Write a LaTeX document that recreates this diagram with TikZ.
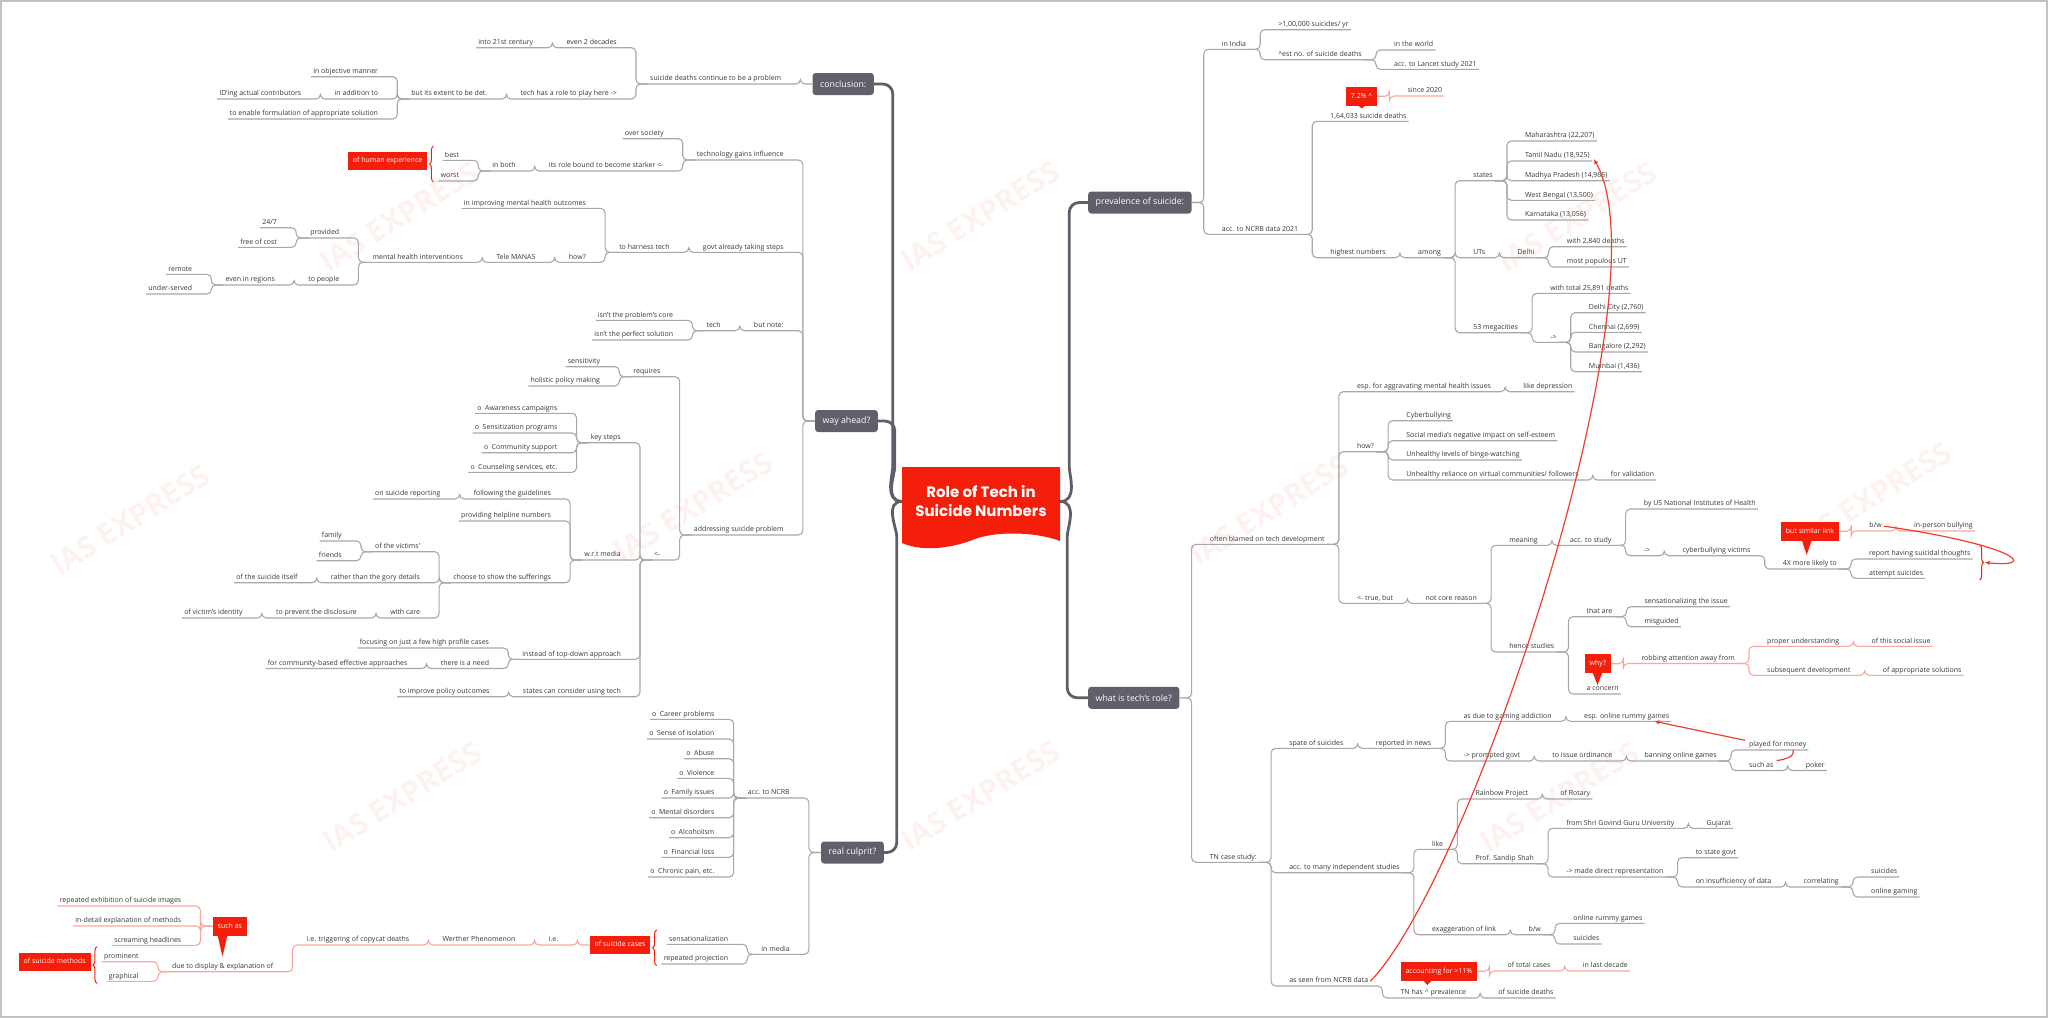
\documentclass[tikz,border=0pt]{standalone}
\usepackage{fontspec}
\setmainfont{Open Sans}
\newfontfamily\titlefont{Poppins}
\usetikzlibrary{arrows.meta,positioning,calc,decorations.pathreplacing,backgrounds}

\definecolor{cred}{RGB}{245,30,10}
\definecolor{ared}{RGB}{240,62,44}
\definecolor{pinkln}{RGB}{246,168,158}
\definecolor{lgray}{RGB}{168,168,170}
\definecolor{tgray}{RGB}{94,94,104}
\definecolor{bgray}{RGB}{96,96,106}
\definecolor{txt}{RGB}{55,55,55}
\definecolor{wm}{RGB}{254,242,240}

\newcommand\txtf{\fontsize{7pt}{8pt}\selectfont}
% branch to the right: parent point, name, y of line, text
\newcommand\mmR[5][]{%
  \node[rt] (#3) at ([xshift=28pt]#2 |- 0,#4) {#5};
  \draw[ln,#1] (#2) -- ++(12pt,0) |- (#3.south east);}
% branch to the left
\newcommand\mmL[5][]{%
  \node[lt] (#3) at ([xshift=-29pt]#2 |- 0,#4) {#5};
  \draw[ln,#1] (#2) -- ++(-12pt,0) |- (#3.south west);}

\begin{document}
\begin{tikzpicture}[x=1pt,y=-1pt,
  rt/.style={anchor=south west,font=\txtf,text=txt,inner xsep=2pt,inner ysep=1pt,text height=5.3pt,text depth=2pt},
  lt/.style={rt,anchor=south east},
  ln/.style={draw=lgray,line width=1.1pt,rounded corners=4.5pt},
  pk/.style={draw=pinkln},
  topic/.style={fill=bgray,text=white,rounded corners=3pt,font=\fontsize{8.8pt}{10pt}\selectfont,inner xsep=7.5pt,inner ysep=0pt,minimum height=22pt},
  callout/.style={fill=cred,text=white,font=\txtf,inner xsep=5pt,inner ysep=0pt,minimum height=18.6pt,text height=5.3pt,text depth=1.5pt},
  trunk/.style={draw=tgray,line width=2.8pt,rounded corners=10pt},
  brc/.style={draw=cred,line width=1pt,decorate,decoration={brace,amplitude=4pt}},
  rel/.style={draw=ared,line width=1.2pt,-{Latex[length=5pt,width=4.5pt]}},
  wmark/.style={text=wm,font=\fontsize{30pt}{30pt}\selectfont\bfseries,rotate=32}]
\useasboundingbox (0,0) rectangle (2048,1018);

% Centre
\node[text=white,align=center,font={\fontsize{15pt}{19pt}\titlefont\bfseries},minimum width=158pt,minimum height=69pt] (root) at (981,501.5) {Role of Tech in\\Suicide Numbers};

% Main topics
\node[topic,anchor=east] (conc) at (874,84) {conclusion:};
\node[topic,anchor=east] (way) at (878,421) {way ahead?};
\node[topic,anchor=east] (real) at (884,852.5) {real culprit?};
\node[topic,anchor=west] (prev) at (1088,202.5) {prevalence of suicide:};
\node[topic,anchor=west] (role) at (1088,697.8) {what is tech's role?};

\begin{scope}[on background layer]
  % Watermark
  \node[wmark] (wm1) at (399,217) {IAS EXPRESS};
  \node[wmark] (wm2) at (980,216) {IAS EXPRESS};
  \node[wmark] (wm3) at (1577,217) {IAS EXPRESS};
  \node[wmark] (wm4) at (130,520) {IAS EXPRESS};
  \node[wmark] (wm5) at (693,507) {IAS EXPRESS};
  \node[wmark] (wm6) at (1269,510) {IAS EXPRESS};
  \node[wmark] (wm7) at (1872,497) {IAS EXPRESS};
  \node[wmark] (wm8) at (402,797) {IAS EXPRESS};
  \node[wmark] (wm9) at (980,796) {IAS EXPRESS};
  \node[wmark] (wm10) at (1559,797) {IAS EXPRESS};
  % Frame
  \draw[lgray!70,line width=1.5pt] (1,1) rectangle (2047,1017);
  % Trunks
  \draw[trunk] (root.west) to[out=180,in=-90] ([xshift=-9pt,yshift=45pt]root.west) |- (conc.east);
  \draw[trunk] (root.west) to[out=180,in=-90] ([xshift=-7pt,yshift=45pt]root.west) |- (way.east);
  \draw[trunk] (root.west) to[out=180,in=90] ([xshift=-5pt,yshift=-45pt]root.west) |- (real.east);
  \draw[trunk] (root.east) to[out=0,in=-90] ([xshift=9pt,yshift=45pt]root.east) |- (prev.west);
  \draw[trunk] (root.east) to[out=0,in=90] ([xshift=7pt,yshift=-45pt]root.east) |- (role.west);
  % Flag
  \fill[cred] (902,467) -- (1060,467) -- (1060,541) .. controls (1040,533) and (1000,530) .. (975,539) .. controls (955,547) and (925,553) .. (902,543) -- cycle;
\end{scope}

% Conclusion
\mmL{conc.west}{persist}{84}{suicide deaths continue to be a problem}
\mmL{persist.south west}{decades}{47.7}{even 2 decades}
\mmL{decades.south west}{century}{47.7}{into 21st century}
\mmL{persist.south west}{roleplay}{99}{tech has a role to play here ->}
\mmL{roleplay.south west}{extent}{99}{but its extent to be det.}
\mmL{extent.south west}{objective}{76.7}{in objective manner}
\mmL{extent.south west}{addition}{99}{in addition to}
\mmL{addition.south west}{iding}{99}{ID'ing actual contributors}
\mmL{extent.south west}{formul}{119}{to enable formulation of appropriate solution}

% Way ahead
\mmL{way.west}{influence}{160}{technology gains influence}
\mmL{influence.south west}{society}{138.7}{over society}
\mmL{influence.south west}{starker}{171}{its role bound to become starker <-}
\mmL{starker.south west}{both}{171}{in both}
\mmL{both.south west}{best}{160.3}{best}
\mmL{both.south west}{worst}{181}{worst}
\draw[brc] ([xshift=-5pt]worst.south west |- 0,182) -- ([xshift=-5pt]worst.south west |- 0,146);
\node[callout,anchor=east] (humexp) at ([xshift=-11pt]worst.south west |- 0,161) {of human experience};
\mmL{way.west}{govt}{252.3}{govt already taking steps}
\mmL{govt.south west}{harness}{252.3}{to harness tech}
\mmL{harness.south west}{improving}{208.3}{in improving mental health outcomes}
\mmL{harness.south west}{howq}{262.3}{how?}
\mmL{howq.south west}{manas}{262.3}{Tele MANAS}
\mmL{manas.south west}{interv}{262.3}{mental health interventions}
\mmL{interv.south west}{provided}{238}{provided}
\mmL{provided.south west}{allday}{227.7}{24/7}
\mmL{provided.south west}{free}{247.3}{free of cost}
\mmL{interv.south west}{people}{285}{to people}
\mmL{people.south west}{regions}{285}{even in regions}
\mmL{regions.south west}{remote}{274.3}{remote}
\mmL{regions.south west}{underserved}{294}{under-served}
\mmL{way.west}{note}{330.7}{but note:}
\mmL{note.south west}{tech}{330.7}{tech}
\mmL{tech.south west}{core}{320.3}{isn't the problem's core}
\mmL{tech.south west}{perfect}{340}{isn't the perfect solution}
\mmL{way.west}{address}{535}{addressing suicide problem}
\mmL{address.south west}{requires}{376.7}{requires}
\mmL{requires.south west}{sensit}{366.7}{sensitivity}
\mmL{requires.south west}{holistic}{386}{holistic policy making}
\mmL{address.south west}{larr}{560}{<-}
\mmL{larr.south west}{keysteps}{442.7}{key steps}
\mmL{keysteps.south west}{aware}{413.3}{o\enspace Awareness campaigns}
\mmL{keysteps.south west}{sensprog}{433}{o\enspace Sensitization programs}
\mmL{keysteps.south west}{commun}{452.7}{o\enspace Community support}
\mmL{keysteps.south west}{counsel}{472.3}{o\enspace Counseling services, etc.}
\mmL{larr.south west}{media}{560}{w.r.t media}
\mmL{media.south west}{guide}{499}{following the guidelines}
\mmL{guide.south west}{reporting}{499}{on suicide reporting}
\mmL{media.south west}{helpline}{521}{providing helpline numbers}
\mmL{media.south west}{suffer}{582.7}{choose to show the sufferings}
\mmL{suffer.south west}{victims2}{551.7}{of the victims'}
\mmL{victims2.south west}{family}{541}{family}
\mmL{victims2.south west}{friends}{560.7}{friends}
\mmL{suffer.south west}{gory}{582.7}{rather than the gory details}
\mmL{gory.south west}{itself}{582.7}{of the suicide itself}
\mmL{suffer.south west}{care}{618}{with care}
\mmL{care.south west}{disclose}{618}{to prevent the disclosure}
\mmL{disclose.south west}{identity}{618}{of victim's identity}
\mmL{larr.south west}{topdown}{659.3}{instead of top-down approach}
\mmL{topdown.south west}{focus}{648}{focusing on just a few high profile cases}
\mmL{topdown.south west}{need}{668.5}{there is a need}
\mmL{need.south west}{commbased}{668.5}{for community-based effective approaches}
\mmL{larr.south west}{states2}{696.7}{states can consider using tech}
\mmL{states2.south west}{policy}{696.7}{to improve policy outcomes}

% Real culprit
\mmL{real.west}{accncrb}{798}{acc. to NCRB}
\mmL{accncrb.south west}{career}{719.3}{o\enspace Career problems}
\mmL{accncrb.south west}{isolation}{739}{o\enspace Sense of isolation}
\mmL{accncrb.south west}{abuse}{758.7}{o\enspace Abuse}
\mmL{accncrb.south west}{violence}{778.3}{o\enspace Violence}
\mmL{accncrb.south west}{famiss}{798}{o\enspace Family issues}
\mmL{accncrb.south west}{mental}{817.7}{o\enspace Mental disorders}
\mmL{accncrb.south west}{alcohol}{837.7}{o\enspace Alcoholism}
\mmL{accncrb.south west}{financial}{857.3}{o\enspace Financial loss}
\mmL{accncrb.south west}{chronic}{877}{o\enspace Chronic pain, etc.}
\mmL{real.west}{inmedia}{954.3}{in media}
\mmL{inmedia.south west}{sensation}{944.3}{sensationalization}
\mmL{inmedia.south west}{projection}{964}{repeated projection}
\draw[brc] ([xshift=-5pt]projection.south west |- 0,965.5) -- ([xshift=-5pt]projection.south west |- 0,930);
\node[callout,anchor=east] (ofcases) at ([xshift=-11pt]projection.south west |- 0,945) {of suicide cases};
\mmL[pk]{ofcases.west}{ie}{945}{i.e.}
\mmL[pk]{ie.south west}{werther}{945}{Werther Phenomenon}
\mmL[pk]{werther.south west}{trig}{945}{i.e. triggering of copycat deaths}
\mmL[pk]{trig.south west}{due}{971.7}{due to display \& explanation of}
\mmL[pk]{due.south west}{prominent}{961.7}{prominent}
\mmL[pk]{due.south west}{graphical}{981.3}{graphical}
\draw[brc] ([xshift=-5pt]prominent.south west |- 0,983.3) -- ([xshift=-5pt]prominent.south west |- 0,946.7);
\node[callout,anchor=east] (ofmethods) at ([xshift=-11pt]prominent.south west |- 0,962) {of suicide methods};
\node[callout,anchor=north west] (suchbox) at ([xshift=-63pt,yshift=55pt]due.south east) {such as};
\coordinate (tsuch) at ([xshift=-53pt,yshift=15pt]due.south east);
\fill[cred] ([xshift=-5pt,yshift=1pt]tsuch |- suchbox.south) -- (tsuch) -- ([xshift=5pt,yshift=1pt]tsuch |- suchbox.south) -- cycle;
\mmL[pk]{suchbox.west}{exhib}{906}{repeated exhibition of suicide images}
\mmL[pk]{suchbox.west}{indetail}{926}{in-detail explanation of methods}
\mmL[pk]{suchbox.west}{screaming}{945.3}{screaming headlines}

% Prevalence of suicide
\mmR{prev.east}{india}{49.3}{in India}
\mmR{india.south east}{lakh}{29.7}{>1,00,000 suicides/ yr}
\mmR{india.south east}{estno}{59.7}{\textasciicircum est no. of suicide deaths}
\mmR{estno.south east}{world}{50}{in the world}
\mmR{estno.south east}{lancet}{69.3}{acc. to Lancet study 2021}
\mmR{prev.east}{ncrb}{234.3}{acc. to NCRB data 2021}
\mmR{ncrb.south east}{total}{121.3}{1,64,033 suicide deaths}
\node[callout,anchor=north west] (c72) at ([xshift=17.5pt,yshift=34.6pt]total.south west) {7.2\% \textasciicircum};
\coordinate (t72) at ([xshift=33.5pt,yshift=13pt]total.south west);
\fill[cred] ([xshift=-5pt,yshift=1pt]t72 |- c72.south) -- (t72) -- ([xshift=5pt,yshift=1pt]t72 |- c72.south) -- cycle;
\mmR[pk]{c72.east}{since}{96}{since 2020}
\mmR{ncrb.south east}{highest}{257.7}{highest numbers}
\mmR{highest.south east}{among}{257.7}{among}
\mmR{among.south east}{states}{180.7}{states}
\mmR{states.south east}{mh}{141}{Maharashtra (22,207)}
\mmR{states.south east}{tn}{161}{Tamil Nadu (18,925)}
\mmR{states.south east}{mp}{180.7}{Madhya Pradesh (14,965)}
\mmR{states.south east}{wb}{200.3}{West Bengal (13,500)}
\mmR{states.south east}{ka}{220}{Karnataka (13,056)}
\mmR{among.south east}{uts}{257.7}{UTs}
\mmR{uts.south east}{delhi}{257.7}{Delhi}
\mmR{delhi.south east}{dldeaths}{246.7}{with 2,840 deaths}
\mmR{delhi.south east}{populous}{267}{most populous UT}
\mmR{among.south east}{mega}{332.7}{53 megacities}
\mmR{mega.south east}{megatot}{293.3}{with total 25,891 deaths}
\mmR{mega.south east}{arrm}{342.3}{->}
\mmR{arrm.south east}{dlcity}{312.7}{Delhi City (2,760)}
\mmR{arrm.south east}{chennai}{332.3}{Chennai (2,699)}
\mmR{arrm.south east}{blr}{352}{Bangalore (2,292)}
\mmR{arrm.south east}{mumbai}{371.7}{Mumbai (1,436)}

% What is tech's role
\mmR{role.east}{blamed}{544.3}{often blamed on tech development}
\mmR{blamed.south east}{aggr}{391.7}{esp. for aggravating mental health issues}
\mmR{aggr.south east}{depr}{391.7}{like depression}
\mmR{blamed.south east}{how}{451.7}{how?}
\mmR{how.south east}{cyber}{420.7}{Cyberbullying}
\mmR{how.south east}{esteem}{440.7}{Social media's negative impact on self-esteem}
\mmR{how.south east}{binge}{460}{Unhealthy levels of binge-watching}
\mmR{how.south east}{reliance}{480}{Unhealthy reliance on virtual communities/ followers}
\mmR{reliance.south east}{valid}{480}{for validation}
\mmR{blamed.south east}{truebut}{603.3}{<- true, but}
\mmR{truebut.south east}{notcore}{603.3}{not core reason}
\mmR{notcore.south east}{meaning}{545.3}{meaning}
\mmR{meaning.south east}{accstudy}{545.3}{acc. to study}
\mmR{accstudy.south east}{nih}{509}{by US National Institutes of Health}
\mmR{accstudy.south east}{arrv}{555.7}{->}
\mmR{arrv.south east}{victims}{555.7}{cyberbullying victims}
\mmR{victims.south east}{likely}{569}{4X more likely to}
\mmR{likely.south east}{thoughts}{559}{report having suicidal thoughts}
\mmR{likely.south east}{attempt}{578.3}{attempt suicides}
\draw[brc] ([xshift=7pt]thoughts.south east |- 0,545) -- ([xshift=7pt]thoughts.south east |- 0,580);
\coordinate (brtip) at ([xshift=12pt]thoughts.south east |- 0,562.5);
\node[callout,anchor=north west] (simlink) at ([yshift=47.3pt]likely.south west) {but similar link};
\coordinate (tsim) at ([xshift=26pt,yshift=14pt]likely.south west);
\fill[cred] ([xshift=-5pt,yshift=1pt]tsim |- simlink.south) -- (tsim) -- ([xshift=5pt,yshift=1pt]tsim |- simlink.south) -- cycle;
\mmR[pk]{simlink.east}{bw}{531}{b/w}
\mmR[pk]{bw.south east}{inperson}{531}{in-person bullying}
\draw[rel] (bw.east) .. controls (2015,545) and (2040,568) .. (brtip);
\mmR{notcore.south east}{hence}{652}{hence studies}
\mmR{hence.south east}{thatare}{616.7}{that are}
\mmR{thatare.south east}{sensiss}{606.7}{sensationalizing the issue}
\mmR{thatare.south east}{misg}{626.7}{misguided}
\mmR{hence.south east}{concern}{694}{a concern}
\node[callout,anchor=north west] (why) at ([yshift=39.8pt]concern.south west) {why?};
\coordinate (twhy) at ([xshift=13pt,yshift=9pt]concern.south west);
\fill[cred] ([xshift=-5pt,yshift=1pt]twhy |- why.south) -- (twhy) -- ([xshift=5pt,yshift=1pt]twhy |- why.south) -- cycle;
\mmR[pk]{why.east}{robbing}{663.5}{robbing attention away from}
\mmR[pk]{robbing.south east}{proper}{646.3}{proper understanding}
\mmR[pk]{proper.south east}{socialiss}{646.3}{of this social issue}
\mmR[pk]{robbing.south east}{subseq}{675.3}{subsequent development}
\mmR[pk]{subseq.south east}{approp}{675.3}{of appropriate solutions}

% TN case study
\mmR{role.east}{tncase}{862.3}{TN case study:}
\mmR{tncase.south east}{spate}{748.3}{spate of suicides}
\mmR{spate.south east}{news}{748.3}{reported in news}
\mmR{news.south east}{gaming}{721.3}{as due to gaming addiction}
\mmR{gaming.south east}{rummy}{721.3}{esp. online rummy games}
\mmR{news.south east}{prompted}{761}{-> prompted govt}
\mmR{prompted.south east}{ordinance}{761}{to issue ordinance}
\mmR{ordinance.south east}{banning}{761}{banning online games}
\mmR{banning.south east}{money}{750}{played for money}
\mmR{banning.south east}{suchas}{770.5}{such as}
\mmR{suchas.south east}{poker}{770.5}{poker}
\draw[rel] ([xshift=-2pt]money.north west) -- ([xshift=-17pt]rummy.south east);
\draw[ared,line width=1.2pt] ([xshift=46pt]money.south west) to[out=-70,in=10] ([xshift=1pt,yshift=5pt]suchas.east);
\mmR{tncase.south east}{indep}{872.7}{acc. to many independent studies}
\mmR{indep.south east}{like}{849.3}{like}
\mmR{like.south east}{rainbow}{799}{Rainbow Project}
\mmR{rainbow.south east}{rotary}{799}{of Rotary}
\mmR{like.south east}{shah}{863.7}{Prof. Sandip Shah}
\mmR{shah.south east}{univ}{828.3}{from Shri Govind Guru University}
\mmR{univ.south east}{gujarat}{828.3}{Gujarat}
\mmR{shah.south east}{repr}{877}{-> made direct representation}
\mmR{repr.south east}{stategovt}{857.7}{to state govt}
\mmR{repr.south east}{insuff}{887}{on insufficiency of data}
\mmR{insuff.south east}{correl}{887}{correlating}
\mmR{correl.south east}{csuic}{877}{suicides}
\mmR{correl.south east}{cgaming}{897}{online gaming}
\mmR{indep.south east}{exagg}{934.7}{exaggeration of link}
\mmR{exagg.south east}{exbw}{934.7}{b/w}
\mmR{exbw.south east}{exrummy}{923.3}{online rummy games}
\mmR{exbw.south east}{exsuic}{944}{suicides}
\mmR{tncase.south east}{asseen}{986}{as seen from NCRB data}
\mmR{asseen.south east}{prevalence}{998}{TN has \textasciicircum{} prevalence}
\mmR{prevalence.south east}{ofdeaths}{998}{of suicide deaths}
\node[callout,anchor=north west] (acc11) at ([xshift=2pt,yshift=36.3pt]prevalence.south west) {accounting for >11\%};
\coordinate (tacc) at ([xshift=29pt,yshift=13pt]prevalence.south west);
\fill[cred] ([xshift=-5pt,yshift=1pt]tacc |- acc11.south) -- (tacc) -- ([xshift=5pt,yshift=1pt]tacc |- acc11.south) -- cycle;
\mmR[pk]{acc11.east}{totcases}{971}{of total cases}
\mmR[pk]{totcases.south east}{decade}{971}{in last decade}

% Relationship: NCRB data to Tamil Nadu
\draw[rel] (asseen.east) .. controls (1470,880) and (1668,290) .. ([xshift=2pt,yshift=2pt]tn.south east);
\end{tikzpicture}
\end{document}
